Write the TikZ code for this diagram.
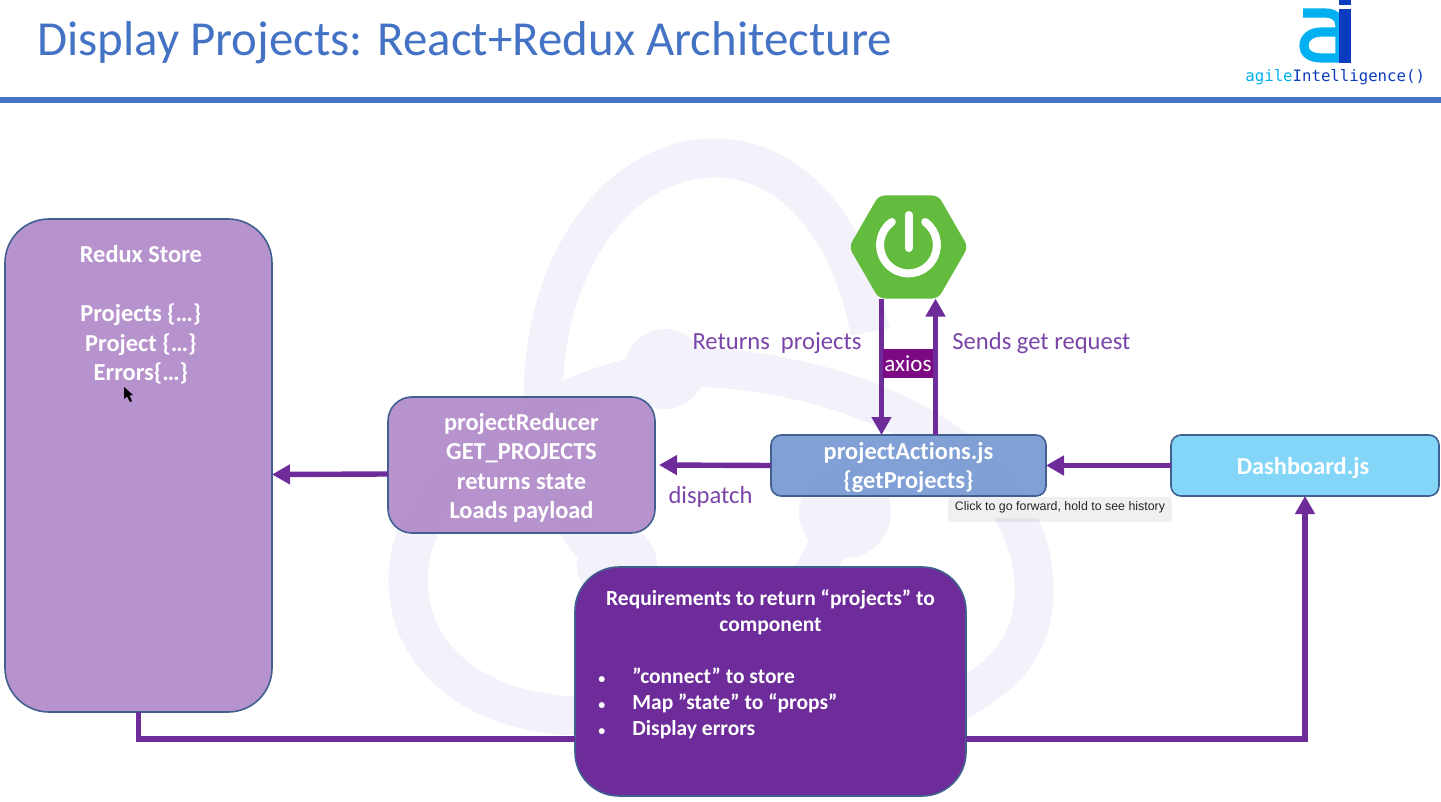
\documentclass[tikz,border=0pt]{standalone}
\usepackage{fontspec}
\setmainfont{Carlito}[Ligatures=NoCommon]
\newfontfamily\monofam{DejaVu Sans Mono}
\newfontfamily\tipfam{Liberation Sans}
\usetikzlibrary{positioning,arrows.meta,shapes.geometric}
\definecolor{flowpurple}{HTML}{6D2C9A}
\definecolor{labelpurple}{HTML}{7A45A8}
\definecolor{storefill}{HTML}{B48FCC}
\definecolor{actionfill}{HTML}{7C9DD4}
\definecolor{dashfill}{HTML}{7FD4F8}
\definecolor{boxedge}{HTML}{41608F}
\definecolor{axiosfill}{HTML}{7D0A82}
\definecolor{titleblue}{HTML}{4472C4}
\definecolor{springgreen}{HTML}{63BC3D}
\definecolor{wmark}{HTML}{F3F1FA}
\definecolor{logocyan}{HTML}{00B0F0}
\definecolor{logoblue}{HTML}{0B3BBE}
\newcommand{\reqdot}{\makebox[17pt][l]{\fontsize{7}{13}\selectfont •}}
\tikzset{
  box/.style={rectangle,draw=boxedge,line width=.8pt,inner sep=0pt,outer sep=0pt,fill opacity=.96},
  boxtxt/.style={text=white,align=center,font=\bfseries\fontsize{12.2}{14.75}\selectfont},
  reqtxt/.style={text=white,font=\bfseries\fontsize{10.75}{13}\selectfont,inner sep=0pt},
  lbl/.style={text=labelpurple,font=\fontsize{12.3}{14}\selectfont,inner sep=0pt},
  flow/.style={draw=flowpurple,line width=2.7pt,-{Triangle[length=9pt,width=9.5pt]}},
  wm/.style={draw=wmark,line width=19.5pt},
  logoa/.style={draw=logocyan,line width=4.6pt}
}
\begin{document}
\begin{tikzpicture}[x=.5pt,y=-.5pt]
\useasboundingbox (0,0) rectangle (1441,802);
% redux watermark
\draw[wm] (870,332) .. controls (850,225) and (790,158) .. (715,158) .. controls (620,158) and (543,260) .. (543,400) .. controls (543,470) and (570,530) .. (610,562);
\draw[wm] (950,705) .. controls (1000,680) and (1034,650) .. (1034,590) .. controls (1034,450) and (850,370) .. (690,367) .. controls (560,380) and (408,470) .. (408,580) .. controls (408,660) and (480,716) .. (585,716) .. controls (680,716) and (790,640) .. (835,530);
\fill[wmark] (665,369) circle[radius=20pt]; \fill[wmark] (617,565) circle[radius=20pt]; \fill[wmark] (845,512) circle[radius=23pt];
% header
\node[text=titleblue,font=\fontsize{24.45}{29}\selectfont,anchor=west,inner sep=0pt] (title) at (37,42.5) {Display Projects: React+Redux Architecture};
\fill[titleblue] (0,97) rectangle (1441,103);
\draw[logoa] (1303,13) -- (1325,13) .. controls (1335,13) and (1340,18) .. (1340,27) -- (1340,58) -- (1322,58) .. controls (1310,58) and (1304,53) .. (1304,46) .. controls (1304,38) and (1310,32) .. (1322,32) -- (1340,32);
\fill[logoblue] (1339,9) rectangle (1351,63); \fill[logoblue] (1339,0) rectangle (1351,5);
\node[font=\monofam\fontsize{7.85}{9}\selectfont,inner sep=0pt,anchor=west] (logotxt) at (1245,77) {\textcolor{logocyan}{agile}\textcolor{logoblue}{Intelligence()}};
% boxes
\node[box,fill=storefill,rounded corners=22pt,minimum width=133.5pt,minimum height=246.5pt] (store) at (138.5,465.5) {};
\node[boxtxt,below=9.7pt of store.north,xshift=1.2pt] (storetxt) {Redux Store\\[14.75pt]Projects \{…\}\\Project \{…\}\\Errors\{…\}};
\node[box,fill=storefill,rounded corners=12pt,minimum width=133.5pt,minimum height=68pt,text opacity=1] (reducer) at (521.5,465) {};
\node[boxtxt,yshift=-1.4pt] (reducertxt) at (reducer) {projectReducer\\GET\_PROJECTS\\returns state\\Loads payload};
\node[box,fill=actionfill,rounded corners=5pt,minimum width=137.5pt,minimum height=30.5pt] (actions) at (908.5,465.5) {};
\node[boxtxt,yshift=-1pt] (actionstxt) at (actions) {projectActions.js\\\{getProjects\}};
\node[box,fill=dashfill,rounded corners=5pt,minimum width=134pt,minimum height=30.5pt] (dash) at (1305,465.5) {};
\node[boxtxt,yshift=-1.2pt,xshift=-1pt] (dashtxt) at (dash) {Dashboard.js};
\node[box,fill=flowpurple,fill opacity=1,rounded corners=22pt,minimum width=195.5pt,minimum height=114.5pt] (req) at (770.5,681.5) {};
\node[reqtxt,align=center] (reqhead) at (770.5,612) {Requirements to return “projects” to\\component};
\node[reqtxt,align=left,anchor=north west] (reqlist) at (598,667) {\reqdot”connect” to store\\\reqdot Map ”state” to “props”\\\reqdot Display errors};
\node[regular polygon,regular polygon sides=6,fill=springgreen,minimum size=59.5pt,inner sep=0pt,outer sep=0pt,rounded corners=3pt] (spring) at (908.5,247) {};
\draw[white,line width=4pt,line cap=round] ([yshift=1pt]spring.center) ++(54:14.2pt) arc[start angle=54,end angle=-234,radius=14.2pt];
\draw[white,line width=4pt,line cap=round] ([yshift=16pt]spring.center) -- ([yshift=-.5pt]spring.center);
% flows
\draw[flow] ([xshift=-13.5pt]spring.south) -- ([xshift=-13.5pt]actions.north);
\draw[flow] ([xshift=13.5pt]actions.north) -- ([xshift=13.5pt]spring.south);
\draw[flow] (dash.west) -- (actions.east);
\draw[flow,shorten >=2pt] (actions.west) -- (reducer.east);
\draw[flow] ([yshift=-4.5pt]reducer.west) -- ([yshift=-4.5pt]store.east);
\draw[flowpurple,line width=2.7pt] (store.south) |- ([yshift=-28.75pt]req.west);
\draw[flow] ([yshift=-28.75pt]req.east) -| (dash.south);
\node[fill=axiosfill,text=white,font=\fontsize{11.5}{14}\selectfont,inner sep=0pt,minimum width=25pt,minimum height=14.5pt] (axios) at (908,364) {axios};
% labels
\node[lbl] (returns) at (777,343) {Returns\ \ projects};
\node[lbl,anchor=west] (sends) at (952,343) {Sends get request};
\node[lbl] (dispatch) at (710.5,497) {dispatch};
% browser tooltip and pointer
\node[fill=black!30,opacity=.2,minimum width=112pt,minimum height=11pt,inner sep=0pt] (tipshade) at (1060,510.5) {};
\node[fill=black!6,text=black!85,font=\tipfam\fontsize{6.2}{7}\selectfont,minimum width=111pt,minimum height=10.5pt,inner sep=0pt] (tip) at (1060,507.5) {Click to go forward, hold to see history};
\fill[black] (124,387) -- (124,399) -- (127,396.5) -- (130,402) -- (132,401) -- (129.5,395.5) -- (133,395) -- cycle;
\end{tikzpicture}
\end{document}
